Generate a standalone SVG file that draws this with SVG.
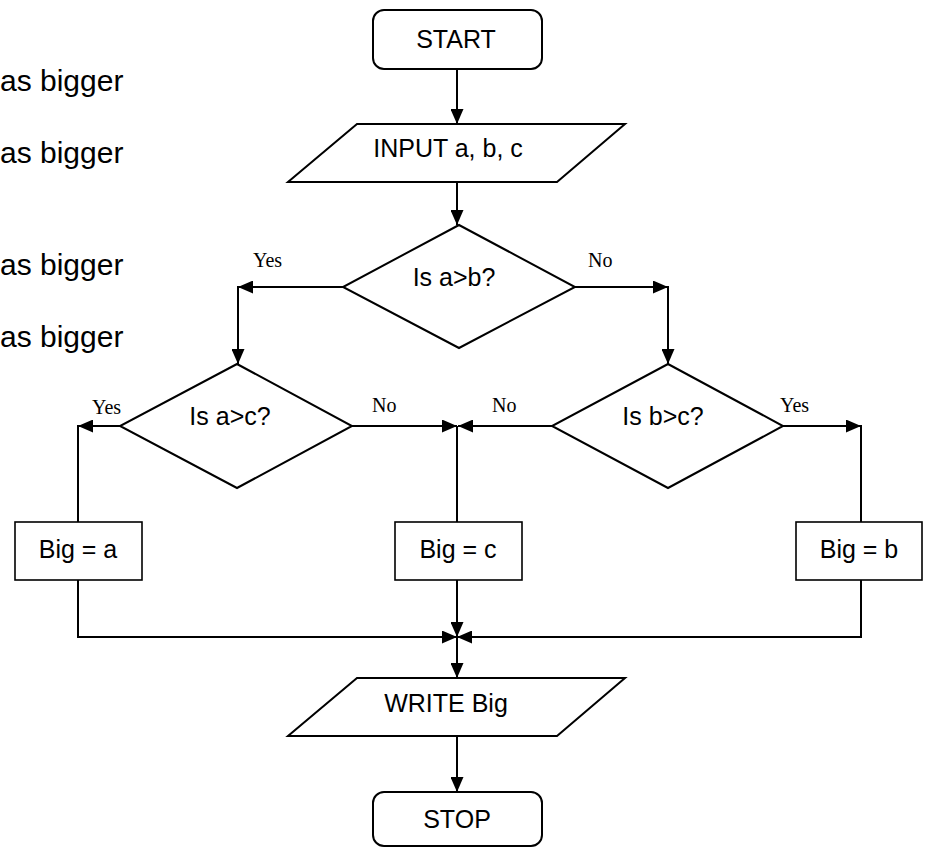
<svg xmlns="http://www.w3.org/2000/svg" width="925" height="848" viewBox="0 0 925 848">
<style>
.shape{fill:#fff;stroke:#000;stroke-width:2}
.box{fill:#fff;stroke:#000;stroke-width:1.6}
.t{font-family:"Liberation Sans",Arial,sans-serif;font-size:25px;fill:#000;text-anchor:middle}
.side{font-family:"Liberation Sans",Arial,sans-serif;font-size:30px;fill:#000}
.lbl{font-family:"Liberation Serif","Times New Roman",serif;font-size:20px;fill:#000}
.c{fill:none;stroke:#000;stroke-width:2}
.ca{fill:none;stroke:#000;stroke-width:2;marker-end:url(#ah)}
</style>
<defs>
<marker id="ah" viewBox="0 0 15 13" refX="15" refY="6.5" markerWidth="15" markerHeight="13" markerUnits="userSpaceOnUse" orient="auto">
<path d="M0,0 L15,6.5 L0,13 Z" fill="#000"/>
</marker>
</defs>
<rect width="925" height="848" fill="#fff"/>
<g id="side-text">
<text class="side" x="0" y="91">as bigger</text>
<text class="side" x="0" y="163">as bigger</text>
<text class="side" x="0" y="275">as bigger</text>
<text class="side" x="0" y="347">as bigger</text>
</g>
<g id="connectors">
<line class="ca" x1="457" y1="69" x2="457" y2="124"/>
<line class="ca" x1="457" y1="182" x2="457" y2="225"/>
<line class="ca" x1="343" y1="287" x2="238" y2="287"/>
<line class="ca" x1="238" y1="286" x2="238" y2="364"/>
<line class="ca" x1="575" y1="287" x2="668" y2="287"/>
<line class="ca" x1="668" y1="286" x2="668" y2="364"/>
<line class="ca" x1="120" y1="426" x2="78" y2="426"/>
<line class="c" x1="78" y1="425" x2="78" y2="522"/>
<line class="ca" x1="352" y1="426" x2="457" y2="426"/>
<line class="ca" x1="563" y1="426" x2="458" y2="426"/>
<line class="c" x1="457" y1="426" x2="457" y2="522"/>
<line class="ca" x1="783" y1="426" x2="861" y2="426"/>
<line class="c" x1="861" y1="425" x2="861" y2="522"/>
<line class="c" x1="78" y1="580" x2="78" y2="637"/>
<line class="ca" x1="457" y1="580" x2="457" y2="637"/>
<line class="c" x1="861" y1="580" x2="861" y2="637"/>
<line class="ca" x1="77" y1="637" x2="457" y2="637"/>
<line class="ca" x1="862" y1="637" x2="457" y2="637"/>
<line class="ca" x1="457" y1="637" x2="457" y2="678"/>
<line class="ca" x1="457" y1="736" x2="457" y2="792"/>
</g>
<g id="start">
<rect class="shape" x="373" y="10" width="169" height="59" rx="11"/>
<text class="t" x="456" y="48">START</text>
</g>
<g id="input">
<polygon class="shape" points="357,124 625,124 557,182 288,182"/>
<text class="t" x="448" y="157">INPUT a, b, c</text>
</g>
<g id="dec-ab">
<polygon class="shape" points="459,225 575,287 459,348 343,287"/>
<text class="t" x="454" y="286">Is a&gt;b?</text>
<text class="lbl" x="253" y="267">Yes</text>
<text class="lbl" x="588" y="267">No</text>
</g>
<g id="dec-ac">
<polygon class="shape" points="237,364 352,426 237,488 120,426"/>
<text class="t" x="230" y="425">Is a&gt;c?</text>
<text class="lbl" x="92" y="414">Yes</text>
<text class="lbl" x="372" y="412">No</text>
</g>
<g id="dec-bc">
<polygon class="shape" points="668,364 783,426 668,488 552,426"/>
<text class="t" x="663" y="425">Is b&gt;c?</text>
<text class="lbl" x="492" y="412">No</text>
<text class="lbl" x="780" y="412">Yes</text>
</g>
<g id="big-a">
<rect class="box" x="15" y="522" width="127" height="58"/>
<text class="t" x="78" y="558">Big = a</text>
</g>
<g id="big-c">
<rect class="box" x="395" y="522" width="127" height="58"/>
<text class="t" x="458" y="558">Big = c</text>
</g>
<g id="big-b">
<rect class="box" x="796" y="522" width="126" height="58"/>
<text class="t" x="859" y="558">Big = b</text>
</g>
<g id="write">
<polygon class="shape" points="357,678 625,678 557,736 288,736"/>
<text class="t" x="446" y="712">WRITE Big</text>
</g>
<g id="stop">
<rect class="shape" x="373" y="792" width="169" height="54" rx="11"/>
<text class="t" x="457" y="828">STOP</text>
</g>
</svg>
